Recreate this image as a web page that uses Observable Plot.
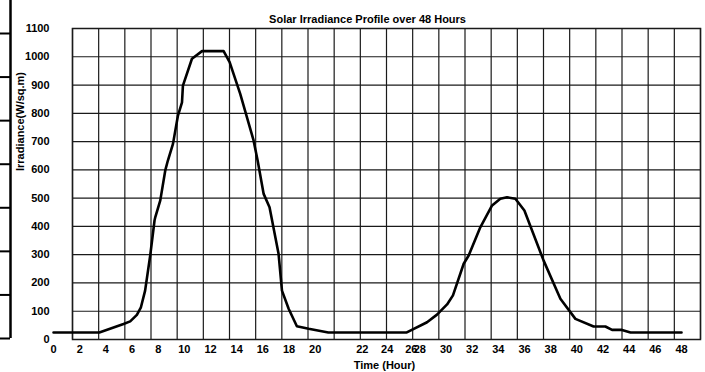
<!DOCTYPE html>
<html>
<head>
<meta charset="utf-8">
<script src="https://cdn.jsdelivr.net/npm/d3@7"></script>
<script src="https://cdn.jsdelivr.net/npm/@observablehq/plot@0.6"></script>
<style>
  html, body { margin: 0; padding: 0; background: #fff; }
  #wrap { position: relative; width: 705px; height: 372px; overflow: hidden; }
  #wrap > svg, #wrap > figure { position: absolute; left: 0; top: 0; margin: 0; }
</style>
</head>
<body>
<div id="wrap"></div>
<script>
// ---- data ----
const hours = [0, 3.5, 5.35, 5.86, 6.37, 6.68, 7.0, 7.39, 7.72, 7.78, 8.16, 8.54, 8.74, 9.13, 9.51, 9.82, 9.89, 10.58, 11.35, 13.0, 13.46, 14.27, 15.29, 15.6, 16.06, 16.51, 17.2, 17.46, 17.97, 18.6, 19.5, 21.0, 27.0, 28.55, 29.31, 30.08, 30.53, 31.35, 31.73, 32.62, 33.52, 34.15, 34.66, 35.3, 35.99, 37.46, 38.74, 39.89, 41.28, 42.18, 42.69, 43.45, 44.1, 48];
const irradiance = [25, 25, 55, 64, 87, 114, 173, 297, 421, 433, 492, 598, 633, 692, 792, 839, 898, 993, 1020, 1020, 981, 869, 704, 633, 515, 468, 303, 173, 109, 47, 38, 25, 25, 61, 88, 124, 156, 268, 297, 397, 474, 498, 503, 498, 456, 279, 144, 73, 46, 46, 34, 34, 25, 25];

// tick labels (as printed) and where they sit on the hour axis
const xTickLabels = ["0","2","4","6","8","10","12","14","16","18","20","22","24","26","28","30","32","34","36","38","40","42","44","46","48"];
const xTickHours  = [0, 2, 4, 6, 8, 10, 12, 14, 16, 18, 20, 23.6, 25.5, 27.35, 28, 30, 32, 34, 36, 38, 40, 42, 44, 46, 48];
const yTicks = [0, 100, 200, 300, 400, 500, 600, 700, 800, 900, 1000, 1100];
const gridHours = [1.45, 3.45, 5.45, 7.45, 9.45, 11.45, 13.45, 15.45, 17.45, 19.45, 21.45, 23.45, 25.45, 27.45, 29.45, 31.45, 33.45, 35.45, 37.45, 39.45, 41.45, 43.45, 45.45, 47.45, 49.45];

const title = "Solar Irradiance Profile over 48 Hours";
const xTitle = "Time (Hour)";
const yTitle = "Irradiance(W/sq.m)";

// cropped fragment of a neighbouring axis at the far left edge
const edgeTicks = [0, 1, 2, 3, 4, 5, 6, 7];

const rows = hours.map((h, i) => ({hour: h, value: irradiance[i]}));
const font = "'Liberation Sans Narrow', 'Arial Narrow', 'Liberation Sans', Arial, sans-serif";

const chart = Plot.plot({
  width: 705,
  height: 372,
  marginLeft: 72,
  marginRight: 5,
  marginTop: 28,
  marginBottom: 33,
  style: {fontFamily: font, fontWeight: "bold", fontSize: "11px", color: "#000", background: "transparent"},
  x: {domain: [gridHours[0], gridHours[gridHours.length - 1]]},
  y: {domain: [0, 1100]},
  marks: [
    Plot.ruleX(gridHours, {stroke: "#1a1a1a", strokeWidth: 1.2}),
    Plot.ruleY(yTicks, {stroke: "#1a1a1a", strokeWidth: 1.2}),
    Plot.frame({stroke: "#1a1a1a", strokeWidth: 1.5}),
    Plot.axisX({ticks: xTickHours, tickFormat: (d, i) => xTickLabels[i], tickSize: 0, tickPadding: 6, label: null, fontWeight: "bold", fontSize: 11}),
    Plot.axisY({ticks: yTicks, tickFormat: d3.format("d"), tickSize: 0, tickPadding: 23, label: null, fontWeight: "bold", fontSize: 11}),
    Plot.line(rows, {x: "hour", y: "value", stroke: "#000", strokeWidth: 2.6, strokeLinejoin: "round"}),
    Plot.text([title], {x: d3.mean(d3.extent(hours)), frameAnchor: "top", dy: -9, lineAnchor: "middle", fontWeight: "bold", fontSize: 11}),
    Plot.text([xTitle], {frameAnchor: "bottom", dy: 26, dx: -2, lineAnchor: "middle", fontWeight: "bold", fontSize: 11}),
    Plot.text([yTitle], {frameAnchor: "left", rotate: -90, dx: -52, dy: -13, lineAnchor: "middle", fontWeight: "bold", fontSize: 11})
  ]
});

const edge = Plot.plot({
  width: 14,
  height: 372,
  margin: 0,
  style: {background: "transparent"},
  x: {domain: [0, 1], range: [0, 10], axis: null},
  y: {domain: [0, 7], range: [338, 33], axis: null},
  marks: [
    Plot.ruleY(edgeTicks, {x1: 0, x2: 1, stroke: "#000", strokeWidth: 2}),
    Plot.ruleX([1], {y1: 0, y2: 7.8, stroke: "#000", strokeWidth: 2.5})
  ]
});

const wrap = document.getElementById("wrap");
wrap.appendChild(chart);
wrap.appendChild(edge);
</script>
</body>
</html>
